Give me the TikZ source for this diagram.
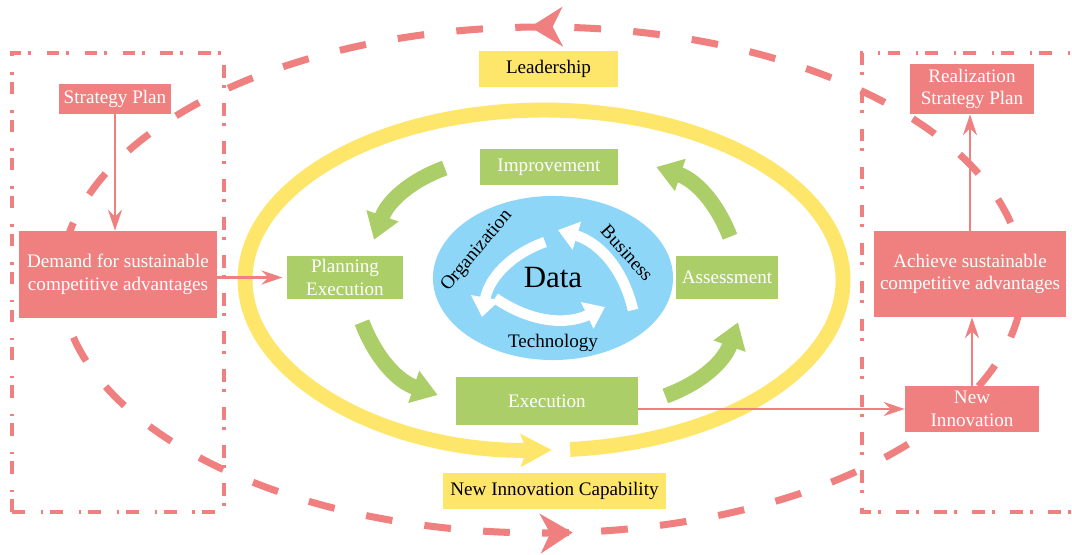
\documentclass[tikz,border=0pt]{standalone}
\usepackage{fontspec}
\setmainfont{Liberation Serif}
\usetikzlibrary{arrows.meta,decorations.markings,shapes.geometric}
\definecolor{coral}{RGB}{240,128,128}
\definecolor{leaf}{RGB}{171,206,104}
\definecolor{sun}{RGB}{253,230,106}
\definecolor{sky}{RGB}{142,214,247}
\begin{document}
\begin{tikzpicture}[x=0.025cm,y=0.025cm,
    every node/.style={font=\fontsize{13.6}{16}\selectfont},
    redbox/.style={fill=coral,text=white,inner sep=0pt,align=center},
    greenbox/.style={fill=leaf,text=white,inner sep=0pt,align=center},
    yellowbox/.style={fill=sun,inner sep=0pt},
    redarrow/.style={coral,line width=1.8pt,-{Stealth[length=15pt,width=10pt,inset=5pt]}},
    greenarrow/.style={leaf,line width=11pt,-{Triangle[length=18pt,width=23pt]}},
    whitearrow/.style={white,line width=7.5pt,-{Triangle[length=14pt,width=20pt]}},
    dashframe/.style={coral,line width=2.4pt,dash pattern=on 9pt off 5pt on 2pt off 11pt},
    loopline/.style={coral,line width=5pt,dash pattern=on 19pt off 23pt},
    ring/.style={sun,line width=10.6pt,-{Stealth[length=22pt,width=23pt,inset=4pt]}}]
    \useasboundingbox (0,0) rectangle (1072,554);
    % frames left and right
    \draw[dashframe] (12,42) rectangle (224,501);
    \draw[dashframe] (1090,501) -- (862,501) -- (862,42) -- (1090,42);
    % outer dashed loop
    \draw[loopline,postaction={decorate},decoration={markings,
        mark=at position 0.255 with {\arrow{Stealth[length=23pt,width=28pt,inset=7pt]}},
        mark=at position 0.763 with {\arrow{Stealth[length=23pt,width=28pt,inset=7pt]}}}]
        (1023,274) arc[start angle=0,end angle=360,x radius=481,y radius=253];
    % yellow ring
    \draw[ring] (570.1,104.6) arc[start angle=-85,end angle=271.5,x radius=299,y radius=170];
    % core
    \node[ellipse,fill=sky,minimum width=6cm,minimum height=4.1cm,
          font=\fontsize{22}{26}\selectfont] (data) at (553,276) {Data};
    \node[rotate=50] (org) at (477,303) {Organization};
    \node[rotate=-48] (bus) at (627,301) {Business};
    \node (tech) at (553,211) {Technology};
    \coordinate (o1) at (545,312);
    \coordinate (o2) at (482,237);
    \coordinate (t1) at (495,256);
    \coordinate (t2) at (605,247);
    \coordinate (b1) at (633,244);
    \coordinate (b2) at (558,324);
    \draw[whitearrow] (o1) to[bend right=30] (o2);
    \draw[whitearrow] (t1) to[bend right=30] (t2);
    \draw[whitearrow] (b1) to[bend right=30] (b2);
    % cycle boxes
    \node[greenbox,minimum width=3.45cm,minimum height=0.9cm] (impr) at (549,387) {Improvement};
    \node[greenbox,minimum width=2.9cm,minimum height=1.075cm] (plan) at (345,276.5) {Planning\\Execution};
    \node[greenbox,minimum width=2.55cm,minimum height=1.075cm] (assess) at (727,276.5) {Assessment};
    \node[greenbox,minimum width=4.55cm,minimum height=1.2cm] (exec) at (547,153) {Execution};
    \draw[greenarrow] ([shift={(-35,-1)}]impr.west) to[bend right=25] ([shift={(29,16)}]plan.north);
    \draw[greenarrow] ([shift={(17,-23)}]plan.south) to[bend right=25] ([shift={(-18,6)}]exec.west);
    \draw[greenarrow] ([shift={(27,5)}]exec.east) to[bend right=25] ([shift={(11,-23)}]assess.south);
    \draw[greenarrow] ([shift={(3,19)}]assess.north) to[bend right=25] ([shift={(38,0)}]impr.east);
    % labels
    \node[yellowbox,minimum width=3.475cm,minimum height=0.9cm] (lead) at (548.5,485) {Leadership};
    \node[yellowbox,minimum width=5.575cm,minimum height=0.9cm] (nic) at (554.5,63) {New Innovation Capability};
    % left side
    \node[redbox,minimum width=2.8cm,minimum height=0.75cm] (sp) at (115,455) {Strategy Plan};
    \node[redbox,minimum width=4.95cm,minimum height=2.175cm] (dem) at (118,279.5) {Demand for sustainable\\competitive advantages};
    \draw[redarrow] (sp.south) -- (sp.south |- dem.north);
    \draw[redarrow,shorten >=3pt] (dem.east |- plan.west) -- (plan.west);
    % right side
    \node[redbox,minimum width=3.075cm,minimum height=1.25cm] (rsp) at (972,465) {Realization\\Strategy Plan};
    \node[redbox,minimum width=4.775cm,minimum height=2.15cm] (ach) at (970,280) {Achieve sustainable\\competitive advantages};
    \node[redbox,minimum width=3.35cm,minimum height=1.15cm] (ni) at (972,145) {New\\Innovation};
    \draw[redarrow] (exec.east |- ni.west) -- (ni.west);
    \draw[redarrow] (ni.north) -- (ni.north |- ach.south);
    \draw[redarrow] (ach.north) -- (ach.north |- rsp.south);
\end{tikzpicture}
\end{document}
